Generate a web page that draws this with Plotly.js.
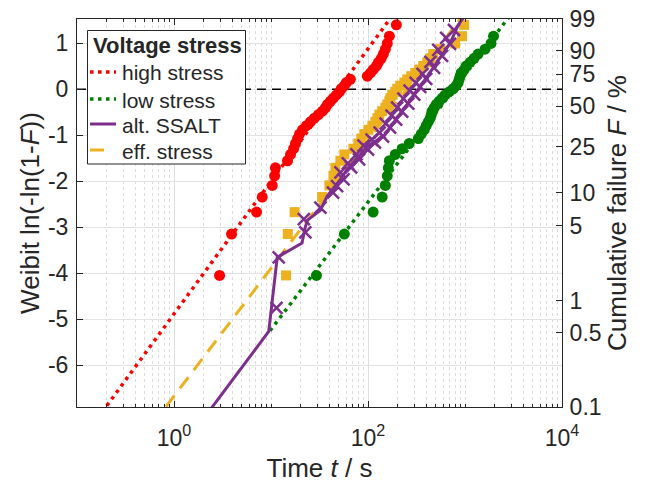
<!DOCTYPE html>
<html>
<head>
<meta charset="utf-8">
<script src="https://cdn.plot.ly/plotly-3.0.1.min.js"></script>
<style>
  html, body { margin: 0; padding: 0; background: #ffffff; }
  #chart { width: 649px; height: 483px; }
</style>
</head>
<body>
<div id="chart"></div>
<script>
// ---------- data ----------
// Weibit plotting positions of the 40 ranked failures
const rankWeibit = [-4.047,-3.147,-2.671,-2.343,-2.090,-1.883,-1.707,-1.554,-1.417,-1.293,
  -1.179,-1.073,-0.974,-0.881,-0.793,-0.709,-0.629,-0.551,-0.476,-0.402,
  -0.331,-0.261,-0.192,-0.124,-0.056,0.011,0.078,0.146,0.215,0.284,
  0.355,0.429,0.505,0.586,0.672,0.766,0.872,0.995,1.153,1.400];

// high stress failure times (s)
const highT = [2.95,3.92,7.10,8.12,10.3,10.9,11.1,14.8,15.9,17.1,
  17.9,18.8,19.7,21.1,23.2,25.5,28.0,30.8,33.9,36.4,
  38.2,41.0,44.0,47.2,50.7,53.1,57.0,59.8,65.8,98.4,
  106,113,122,128,137,144,151,158,166,196];

// low stress failure times (s)
const lowT = [29.4,57.0,113,140,151,158,162,166,191,225,
  266,330,354,380,398,418,438,449,459,482,
  505,542,582,624,687,755,811,850,871,891,
  912,980,1026,1127,1241,1364,1610,1854,1968];

// effective-stress (converted) failure times (s)
const effT = [14.3,14.9,17.5,33.6,40.0,44.0,46.1,51.9,57.0,70.6,
  79.4,85.3,91.6,101,111,119,125,131,140,151,
  158,166,170,178,191,200,215,237,254,279,
  307,337,371,408,438,470,555,791,933,980];

// alternating SSALT markers
const ssaltT = [11.4,12.0,22.6,21.8,32.3,43.6,48.0,56,52,67,
  62,81,76,100,90,118,109,143,132,169,
  152,195,175,225,200,260,232,300,268,345,
  310,398,365,480,440,580,530,700,640,770];
const ssaltY = [-4.751,-3.654,-3.113,-2.825,-2.571,-2.247,-2.104,-1.959,-1.807,-1.699,
  -1.613,-1.526,-1.418,-1.310,-1.223,-1.158,-1.093,-1.028,-0.942,-0.833,
  -0.747,-0.660,-0.574,-0.487,-0.400,-0.314,-0.206,-0.119,-0.032,0.054,
  0.141,0.227,0.335,0.465,0.595,0.725,0.855,0.985,1.115,1.288];

// model curves
const highFitT = [0.145, 209];   const highFitY = [-7.3, 1.8];
const lowFitT  = [9.77, 3436];   const lowFitY  = [-5.25, 1.8];
const effFitT  = [0.594, 1117];  const effFitY  = [-7.3, 1.8];
const ssaltCurveT = [1.80, 9.48, 11.59, 20.9, 22.4, 23.8, 32.3, 37.8, 51.9, 60.8, 83.4, 97.7, 147, 330, 703, 849, 1170];
const ssaltCurveY = [-7.3, -5.266, -3.654, -3.344, -3.019, -2.846, -2.630, -2.327, -1.959, -1.742, -1.418, -1.245, -1.006, 0, 1.0, 1.396, 1.8];

// characteristic-life reference (F = 63.2 %)
const refLineT = [0.1, 10000];
const refLineY = [0, 0];

// legend entries
const legendTitle = 'Voltage stress';
const legendNames = ['high stress', 'low stress', 'alt. SSALT', 'eff. stress'];

// axis ticks
const weibitTicks = [-6, -5, -4, -3, -2, -1, 0, 1];
const weibitLabels = ['-6', '-5', '-4', '-3', '-2', '-1', '0', '1'];
const pctTicks = [0.1, 0.5, 1, 5, 10, 25, 50, 75, 90, 99];
const xMajorTicks = [1, 100, 10000];
const xMajorLabels = ['10<sup>0</sup>', '10<sup>2</sup>', '10<sup>4</sup>'];

// ---------- derived helpers (axes only) ----------
const weibit = p => Math.log(-Math.log(1 - p / 100));
const yMin = weibit(0.1), yMax = weibit(99);
const xMinor = [];
for (let d = -1; d <= 3; d++) {
  for (let k = 1; k <= 9; k++) {
    const v = k * Math.pow(10, d);
    if (!xMajorTicks.includes(v)) xMinor.push(v);
  }
}

const RED = '#FF0000', GREEN = '#008000', PURPLE = '#7E2F8E', ORANGE = '#EDB120';
const TXT = '#262626';
const FONT = 'Liberation Sans, Arial, Helvetica, sans-serif';

const W = 649, H = 483;
const M = { l: 77, r: 87, t: 19, b: 76 };
const PW = W - M.l - M.r, PH = H - M.t - M.b;
const px = x => (x - M.l) / PW;
const py = y => (H - M.b - y) / PH;

const DOT = '3.5px,4.5px';
const DASH = '14px,9px';

const traces = [
  { x: refLineT, y: refLineY, type: 'scatter', mode: 'lines', hoverinfo: 'skip',
    line: { color: '#000000', width: 1.6, dash: '9px,6px' } },
  { x: highT, y: rankWeibit, type: 'scatter', mode: 'markers', hoverinfo: 'skip',
    marker: { symbol: 'circle', size: 11, color: RED } },
  { x: lowT, y: rankWeibit.slice(0, lowT.length), type: 'scatter', mode: 'markers', hoverinfo: 'skip',
    marker: { symbol: 'circle', size: 11, color: GREEN } },
  { x: effT, y: rankWeibit, type: 'scatter', mode: 'markers', hoverinfo: 'skip',
    marker: { symbol: 'square', size: 10, color: ORANGE } },
  { x: highFitT, y: highFitY, type: 'scatter', mode: 'lines', name: legendNames[0], hoverinfo: 'skip',
    line: { color: RED, width: 3.5, dash: DOT } },
  { x: lowFitT, y: lowFitY, type: 'scatter', mode: 'lines', name: legendNames[1], hoverinfo: 'skip',
    line: { color: GREEN, width: 3.5, dash: DOT } },
  { x: effFitT, y: effFitY, type: 'scatter', mode: 'lines', name: legendNames[3], hoverinfo: 'skip',
    line: { color: ORANGE, width: 3, dash: DASH } },
  { x: ssaltCurveT, y: ssaltCurveY, type: 'scatter', mode: 'lines', name: legendNames[2], hoverinfo: 'skip',
    line: { color: PURPLE, width: 3 } },
  { x: ssaltT, y: ssaltY, type: 'scatter', mode: 'markers', hoverinfo: 'skip',
    marker: { symbol: 'x-thin', size: 12, color: PURPLE, line: { color: PURPLE, width: 2.5 } } },
  { x: [null], y: [null], yaxis: 'y2', type: 'scatter', mode: 'markers', hoverinfo: 'skip' }
];

// manual legend (MATLAB style)
const legRows = [72, 99, 124, 150];
const legStyles = [
  { color: RED, width: 3.5, dash: DOT, x1: 116 },
  { color: GREEN, width: 3.5, dash: DOT, x1: 116 },
  { color: PURPLE, width: 3, dash: 'solid', x1: 116 },
  { color: ORANGE, width: 3, dash: 'solid', x1: 104 }
];
const shapes = [
  { type: 'rect', xref: 'paper', yref: 'paper', x0: px(87.5), x1: px(245.5), y0: py(30.5), y1: py(164),
    fillcolor: '#ffffff', line: { color: TXT, width: 1 }, layer: 'above' }
];
const annotations = [
  { xref: 'paper', yref: 'paper', x: px(90.5), y: py(45.5), xanchor: 'left', yanchor: 'middle',
    showarrow: false, text: '<b>' + legendTitle + '</b>', font: { family: FONT, size: 22, color: TXT } }
];
legRows.forEach((ry, i) => {
  const s = legStyles[i];
  shapes.push({ type: 'line', xref: 'paper', yref: 'paper', x0: px(90), x1: px(s.x1), y0: py(ry), y1: py(ry),
    layer: 'above', line: { color: s.color, width: s.width, dash: s.dash } });
  annotations.push({ xref: 'paper', yref: 'paper', x: px(120), y: py(ry + 1), xanchor: 'left', yanchor: 'middle',
    showarrow: false, text: legendNames[i], font: { family: FONT, size: 21, color: TXT } });
});

const layout = {
  width: W, height: H,
  margin: { l: M.l, r: M.r, t: M.t, b: M.b, pad: 0 },
  paper_bgcolor: '#ffffff', plot_bgcolor: '#ffffff',
  font: { family: FONT, size: 23, color: TXT },
  showlegend: false,
  xaxis: {
    type: 'log', range: [-1, 4],
    tickmode: 'array', tickvals: xMajorTicks, ticktext: xMajorLabels,
    ticks: 'inside', ticklen: 6, tickwidth: 1, tickcolor: TXT,
    showline: true, linecolor: TXT, linewidth: 1, mirror: 'ticks',
    showgrid: true, gridcolor: '#dedede', gridwidth: 1,
    zeroline: false,
    ticklabelstandoff: 10,
    tickfont: { family: FONT, size: 23, color: TXT },
    minor: { tickmode: 'array', tickvals: xMinor, ticks: 'inside', ticklen: 3, tickcolor: TXT,
             showgrid: true, gridcolor: '#dcdcdc', griddash: 'dot', gridwidth: 1 },
    title: { text: 'Time <i>t</i> / s', font: { family: FONT, size: 26, color: TXT }, standoff: 9 },
    automargin: false
  },
  yaxis: {
    range: [yMin, yMax],
    tickmode: 'array', tickvals: weibitTicks, ticktext: weibitLabels,
    ticks: 'inside', ticklen: 6, tickwidth: 1, tickcolor: TXT,
    showline: true, linecolor: TXT, linewidth: 1, mirror: false,
    showgrid: true, gridcolor: '#e2e2e2', gridwidth: 1,
    zeroline: false,
    ticklabelstandoff: 3,
    tickfont: { family: FONT, size: 23, color: TXT },
    title: { text: 'Weibit ln(-ln(1-<i>F</i>))', font: { family: FONT, size: 26, color: TXT }, standoff: 0 },
    automargin: false
  },
  yaxis2: {
    overlaying: 'y', side: 'right',
    range: [yMin, yMax],
    tickmode: 'array', tickvals: pctTicks.map(weibit), ticktext: pctTicks.map(String),
    ticks: 'inside', ticklen: 6, tickwidth: 1, tickcolor: TXT,
    showline: true, linecolor: TXT, linewidth: 1,
    showgrid: false, zeroline: false,
    ticklabelstandoff: 2,
    tickfont: { family: FONT, size: 23, color: TXT },
    title: { text: 'Cumulative failure <i>F</i> / %', font: { family: FONT, size: 26, color: TXT }, standoff: 4 },
    automargin: false
  },
  shapes: shapes,
  annotations: annotations
};

Plotly.newPlot('chart', traces, layout, { staticPlot: true, displayModeBar: false });
</script>
</body>
</html>
